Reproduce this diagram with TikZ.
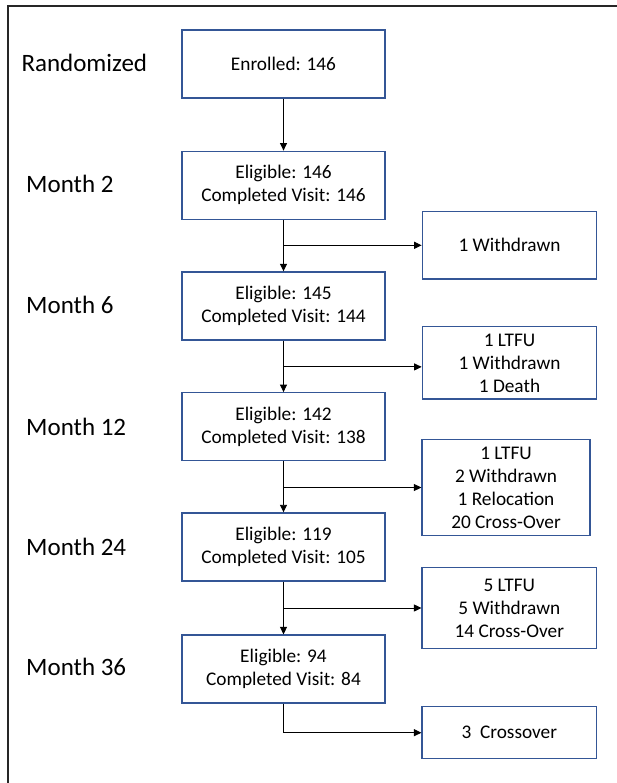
\documentclass[tikz,border=0pt]{standalone}
\usepackage{fontspec}
\setmainfont{Carlito}
\usetikzlibrary{arrows.meta}
\definecolor{boxblue}{RGB}{52,86,150}
\definecolor{framegray}{RGB}{38,38,38}
\begin{document}
\begin{tikzpicture}[x=1pt,y=-1pt,
  mainbox/.style={draw=boxblue, line width=1.2pt, minimum width=203pt, minimum height=68pt,
    align=center, inner sep=0pt, font=\fontsize{19.3}{23.3}\selectfont},
  sidebox/.style={draw=boxblue, line width=1.2pt, align=center, inner sep=0pt,
    font=\fontsize{19.3}{23}\selectfont},
  lab/.style={anchor=base west, inner sep=0pt, font=\fontsize{25}{30}\selectfont},
  arr/.style={-{Triangle[length=7.5pt,width=7pt]}, line width=0.9pt}]
\useasboundingbox (0,0) rectangle (617,783);
\draw[line width=2pt, draw=framegray] (8,795) -- (8,6.5) -- (630,6.5);

% time labels
\node[lab] (lr)  at (21.3,71.7)  {Randomized};
\node[lab] (l2)  at (26,192.3)   {Month 2};
\node[lab] (l6)  at (26,313.3)   {Month 6};
\node[lab] (l12) at (26,435)     {Month 12};
\node[lab] (l24) at (26,555)     {Month 24};
\node[lab] (l36) at (26,675.5)   {Month 36};

% main column
\node[mainbox] (m0)  at (283.5,64)    {Enrolled: 146};
\node[mainbox] (m2)  at (283.5,185.2) {Eligible: 146\\Completed Visit: 146};
\node[mainbox] (m6)  at (283.5,305.9) {Eligible: 145\\Completed Visit: 144};
\node[mainbox] (m12) at (283.5,426.7) {Eligible: 142\\Completed Visit: 138};
\node[mainbox] (m24) at (283.5,546.9) {Eligible: 119\\Completed Visit: 105};
\node[mainbox] (m36) at (283.5,669)   {Eligible: 94\\Completed Visit: 84};

% side boxes
\node[sidebox, minimum width=174.5pt, minimum height=67.3pt] (s1) at (509.5,245.3) {1 Withdrawn};
\node[sidebox, minimum width=174.5pt, minimum height=72.3pt] (s2) at (509.5,362.9) {1 LTFU\\1 Withdrawn\\1 Death};
\node[sidebox, minimum width=168pt, minimum height=96.4pt] (s3) at (506,487.5) {1 LTFU\\2 Withdrawn\\1 Relocation\\20 Cross-Over};
\node[sidebox, minimum width=174.5pt, minimum height=81.4pt] (s4) at (509.3,608) {5 LTFU\\5 Withdrawn\\14 Cross-Over};
\node[sidebox, minimum width=174.5pt, minimum height=52pt] (s5) at (509.3,732.7) {3\ \ Crossover};

% branch end points on side boxes
\coordinate (e1) at (s1.west);
\coordinate (e2) at ([yshift=-4pt]s2.west);
\coordinate (e3) at (s3.west);
\coordinate (e4) at (s4.west);

% vertical arrows
\draw[arr] (m0.south)  -- (m2.north);
\draw[arr] (m2.south)  -- (m6.north);
\draw[arr] (m6.south)  -- (m12.north);
\draw[arr] (m12.south) -- (m24.north);
\draw[arr] (m24.south) -- (m36.north);

% branch arrows
\draw[arr] (m2.south |- e1)  -- (e1);
\draw[arr] (m6.south |- e2)  -- (e2);
\draw[arr] (m12.south |- e3) -- (e3);
\draw[arr] (m24.south |- e4) -- (e4);
\draw[arr] (m36.south) |- (s5.west);
\end{tikzpicture}
\end{document}
